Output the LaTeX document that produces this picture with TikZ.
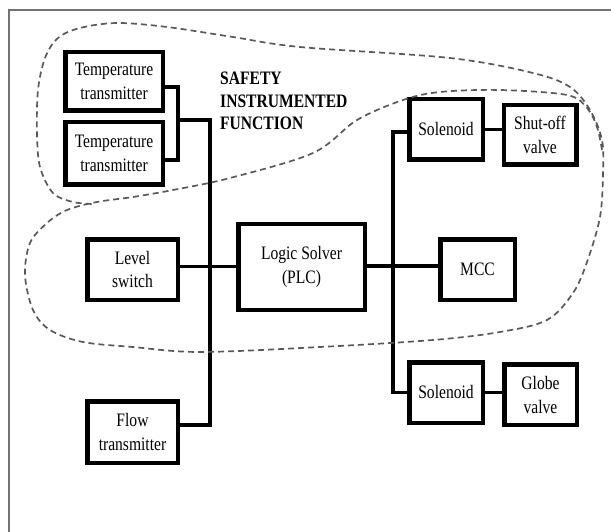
\documentclass[tikz,border=0pt]{standalone}
\usepackage{fontspec}
\setmainfont{Liberation Serif}[FakeStretch=0.82]
\usepackage{tikz}

\tikzset{
  bloc/.style={draw, line width=4.5pt, align=center, inner sep=1pt,
    font=\fontsize{19}{24}\selectfont},
  liaison/.style={line width=3.5pt},
  zone/.style={draw=black!65, line width=1.7pt, dash pattern=on 6pt off 4pt}
}

\begin{document}
\begin{tikzpicture}[x=1pt, y=-1pt]
  \useasboundingbox (0,0) rectangle (611,532);

  % Dessinez le cadre
  \draw[black!55, line width=2pt] (9,532) -- (9,10) -- (611,10);

  % Placez les blocs
  \foreach \nom/\x/\y/\w/\h/\txt in {
    tt1/114/81.5/97.5/58.5/{Temperature\\transmitter},
    tt2/114/153.5/97.5/62.5/{Temperature\\transmitter},
    lvl/132.5/269.5/90.5/60.5/{Level\\switch},
    flow/132.5/432/90.5/61.5/{Flow\\transmitter},
    plc/301.5/267/126.5/85.5/{Logic Solver\\(PLC)},
    sol1/446/129.5/73.5/60.5/{Solenoid},
    shut/540/135/72.5/59.5/{Shut-off\\valve},
    mcc/477.5/269.5/74.5/60.5/{MCC},
    sol2/446/392.5/73.5/60.5/{Solenoid},
    globe/540.5/394.5/72.5/60.5/{Globe\\valve}} {
    \node[bloc, minimum width=\w pt, minimum height=\h pt] (\nom) at (\x,\y) {\txt};
  }

  % Ajoutez le titre de la fonction
  \node[anchor=north west, inner sep=0pt, align=left,
    font=\bfseries\fontsize{19}{22.5}\selectfont] (sif) at (220,72)
    {SAFETY\\INSTRUMENTED\\FUNCTION};

  % Tracez les liaisons
  \coordinate (tbus) at (178,120);
  \coordinate (gbus) at (210,120);
  \coordinate (dbus) at (393,266);
  \draw[liaison] ([yshift=-5.5pt]tt1.east) -| (tbus) |- ([yshift=-6.5pt]tt2.east);
  \draw[liaison] (tbus) -- (gbus) |- ([yshift=7pt]flow.east);
  \draw[liaison] ([yshift=3pt]lvl.east) -- ([yshift=3pt]lvl.east -| plc.west);
  \draw[liaison] ([yshift=1pt]plc.east) -- ([yshift=1pt]plc.east -| mcc.west);
  \draw[liaison] ([yshift=-2.5pt]sol1.west) -| (dbus) |- (sol2.west);
  \draw[liaison] (sol1.east) -- (sol1.east -| shut.west);
  \draw[liaison] (sol2.east) -- (sol2.east -| globe.west);

  % Dessinez la zone en pointillés
  \draw[zone] plot[smooth, tension=0.55] coordinates {
    (602,150) (597,127) (587,108) (567,95) (500,90) (440,92) (403,100)
    (357,120) (313,153) (230,178) (173,190) (133,197) (97,202) (67,210)
    (47,223) (30,243) (25,275) (33,310) (50,330) (83,342) (133,347)
    (200,352) (320,347) (433,340) (500,332) (547,320) (573,293) (587,262)
    (600,217) (603,173) (602,140) (590,110) (570,87) (533,73) (450,58)
    (300,47) (233,37) (167,27) (117,23) (80,28) (58,38) (45,58) (38,90)
    (37,133) (40,167) (53,193) (73,202) (93,204)};
\end{tikzpicture}
\end{document}
